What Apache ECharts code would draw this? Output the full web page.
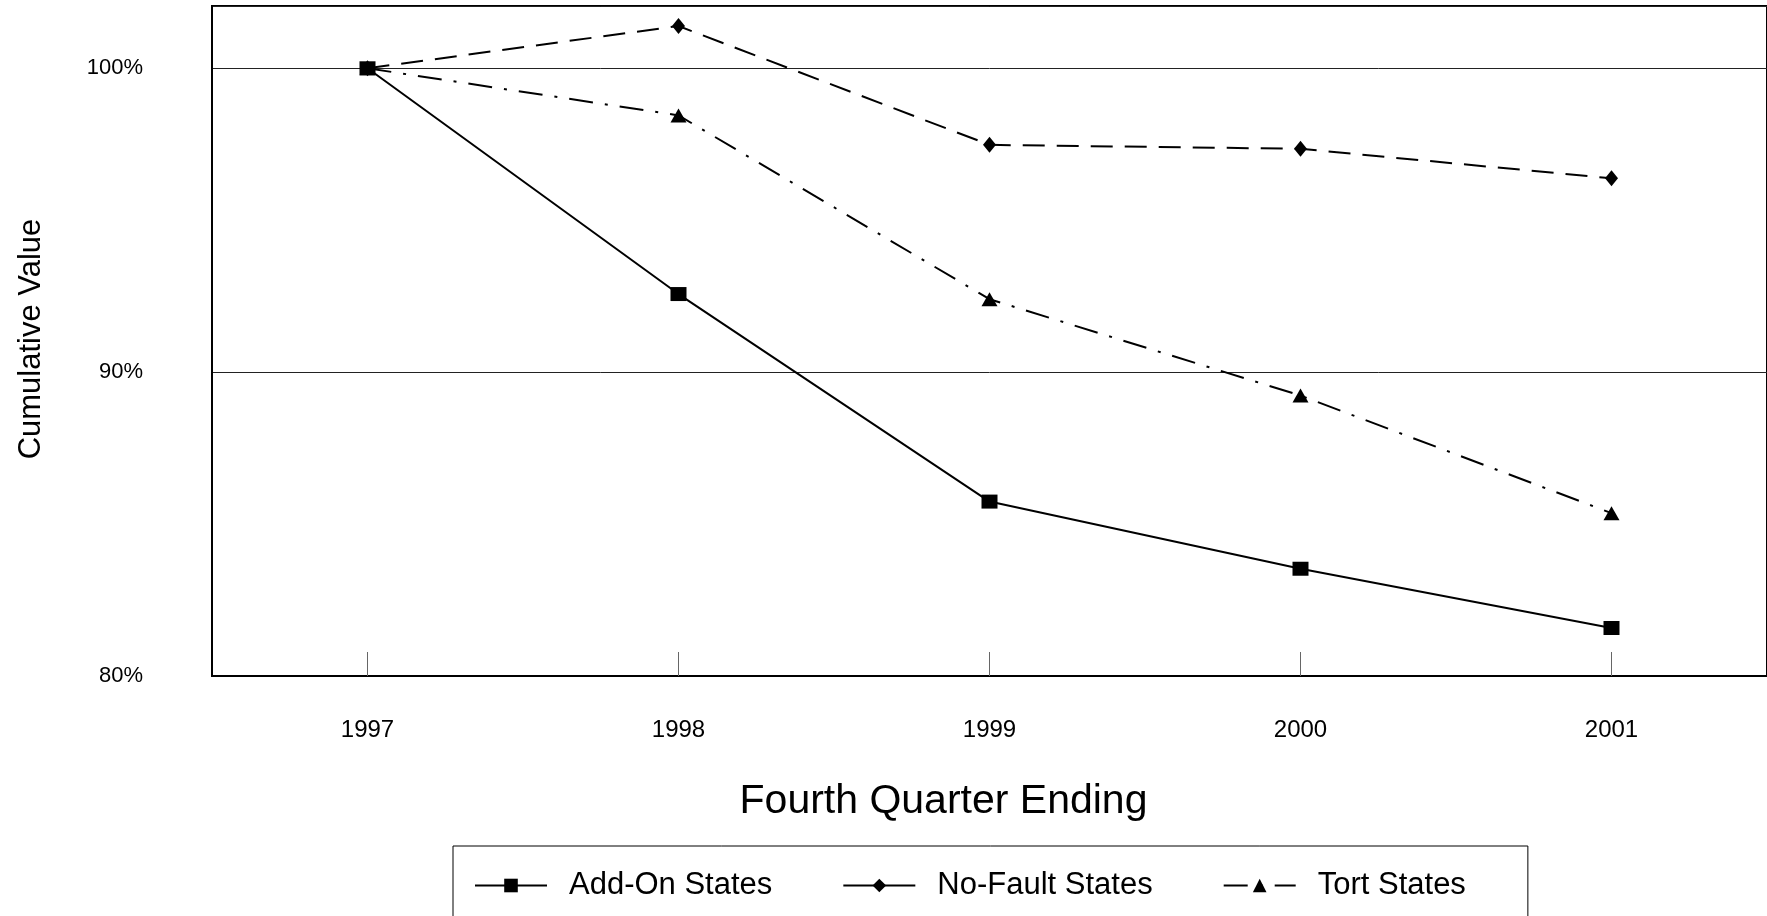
<!DOCTYPE html>
<html>
<head>
<meta charset="utf-8">
<script src="https://cdn.jsdelivr.net/npm/echarts@6/dist/echarts.min.js"></script>
<style>
html,body{margin:0;padding:0;background:#fff;}
#chart{width:1767px;height:916px;}
</style>
</head>
<body>
<div id="chart"></div>
<script>
const years = ['1997', '1998', '1999', '2000', '2001'];
const addOnStates = [100, 92.57, 85.74, 83.53, 81.58];
const noFaultStates = [100, 101.39, 97.48, 97.35, 96.38];
const tortStates = [100, 98.45, 92.40, 89.23, 85.36];
const seriesNames = ['Add-On States', 'No-Fault States', 'Tort States'];
const yTicks = [80, 90, 100];

const FONT = 'Liberation Sans, Arial, sans-serif';
const chart = echarts.init(document.getElementById('chart'), null, {renderer: 'canvas'});

chart.setOption({
  backgroundColor: '#fff',
  animation: false,
  grid: {
    left: 212, top: 6, width: 1559, height: 670,
    show: true, borderColor: '#000', borderWidth: 2, backgroundColor: 'transparent'
  },
  xAxis: {
    type: 'category',
    data: years,
    boundaryGap: true,
    name: 'Fourth Quarter Ending',
    nameLocation: 'middle',
    nameGap: 105,
    nameTextStyle: {fontFamily: FONT, fontSize: 41, color: '#000', padding: [0, 92, 0, 0]},
    axisLine: {lineStyle: {color: '#000', width: 2}},
    axisTick: {show: true, inside: true, alignWithLabel: true, length: 24, lineStyle: {color: '#666', width: 1}},
    axisLabel: {fontFamily: FONT, fontSize: 24, color: '#000', margin: 42},
    splitLine: {show: false}
  },
  yAxis: {
    type: 'value',
    min: 80, max: 102.05, interval: 10,
    name: 'Cumulative Value',
    nameLocation: 'middle',
    nameGap: 165,
    nameTextStyle: {fontFamily: FONT, fontSize: 31, color: '#000', padding: [0, 0, 0, 4]},
    axisLine: {show: true, lineStyle: {color: '#000', width: 2}},
    axisTick: {show: false},
    axisLabel: {
      fontFamily: FONT, fontSize: 22, color: '#000', margin: 69,
      formatter: function (v) { return yTicks.indexOf(v) >= 0 ? v + '%' : ''; }
    },
    splitLine: {show: true, lineStyle: {color: '#222', width: 1}}
  },
  legend: {
    data: [
      {name: seriesNames[0]},
      {name: seriesNames[1], lineStyle: {type: 'solid'}},
      {name: seriesNames[2]}
    ],
    orient: 'horizontal',
    left: 453, top: 846,
    padding: [24, 62, 20, 21],
    borderColor: '#000', borderWidth: 1,
    itemWidth: 72, itemHeight: 17, itemGap: 70,
    textStyle: {fontFamily: FONT, fontSize: 31, color: '#000', padding: [0, 0, 0, 17]}
  },
  series: [
    {
      name: seriesNames[0], type: 'line', data: addOnStates, z: 4,
      symbol: 'rect', symbolSize: [16, 14],
      lineStyle: {color: '#000', width: 2, type: 'solid'},
      itemStyle: {color: '#000'}
    },
    {
      name: seriesNames[1], type: 'line', data: noFaultStates, z: 3,
      symbol: 'diamond', symbolSize: [13, 16],
      lineStyle: {color: '#000', width: 2, type: [22, 12]},
      itemStyle: {color: '#000'}
    },
    {
      name: seriesNames[2], type: 'line', data: tortStates, z: 2,
      symbol: 'triangle', symbolSize: [16, 14],
      lineStyle: {color: '#000', width: 2, type: [24, 12, 3, 12]},
      itemStyle: {color: '#000'}
    }
  ]
});
</script>
</body>
</html>
